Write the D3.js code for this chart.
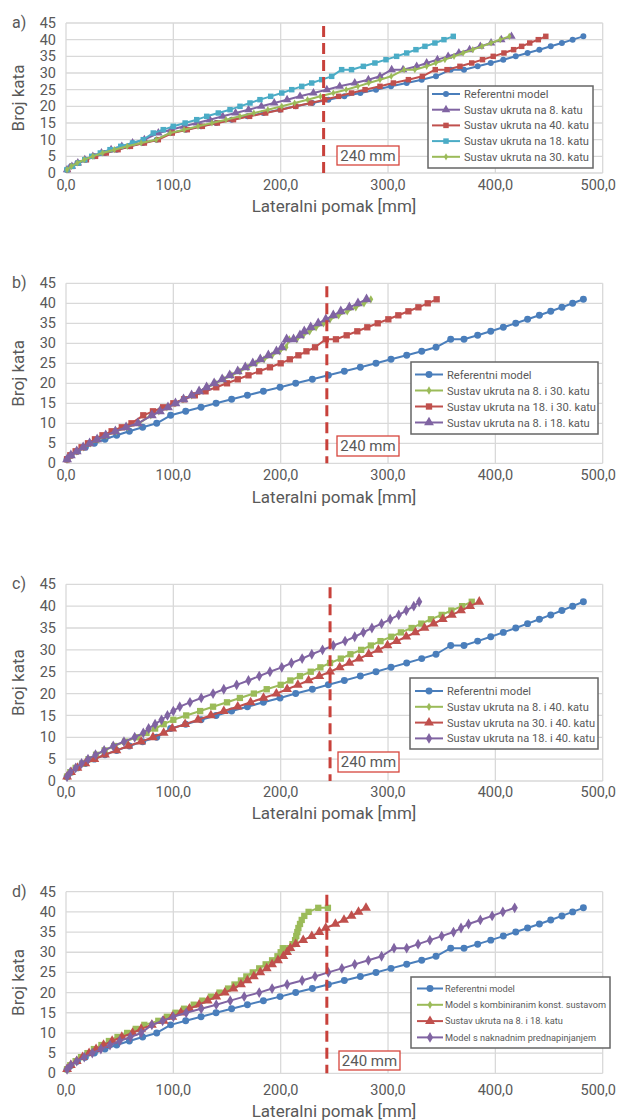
<!DOCTYPE html>
<html>
<head>
<meta charset="utf-8">
<script src="https://cdn.jsdelivr.net/npm/d3@7"></script>
<style>
  body { margin: 0; background: #fff; }
  svg text { font-family: Roboto, "Open Sans", sans-serif; fill: #595959; }
</style>
</head>
<body>
<svg id="chart" width="618" height="1120"></svg>
<script>
// ---- data (floor number vs lateral displacement in mm) ----
var xTicks = [0, 100, 200, 300, 400, 500];
var yTicks = [0, 5, 10, 15, 20, 25, 30, 35, 40, 45];

// floor lists
var floorsRef = [1,2,3,4,5,6,7,8,9,10,12,13,14,15,16,17,18,19,20,21,22,23,24,25,26,27,28,29,31,31,32,33,34,35,36,37,38,39,40,41];
var floorsAll = [1,2,3,4,5,6,7,8,9,10,11,12,13,14,15,16,17,18,19,20,21,22,23,24,25,26,27,28,29,30,31,32,33,34,35,36,37,38,39,40,41];
var floorsComb = [1,2,3,4,5,6,7,8,9,10,11,12,13,14,15,16,17,18,19,20,21,22,23,24,25,26,27,28,29,30,31,31,32,33,34,35,36,37,38,39,40,41,41];

// reference model (same in all panels)
var refX = [1,4.7,10.6,18,26.4,36.3,47.2,59,71.4,84.5, 97.5,111.5,125.8,139.8,154.3,169,183.9,199.4,214,229.5,244.4,259.3,274.2,288.8,302.8,317.4,331.4,344.7, 358.4,370.8, 383.5,395.7,407.4,419,430,441,451.6,462,472,482];

// panel a
var aPurpleX = [1,5.5,11,17.5,25,33,42,52,62,73, 86,98,110,122,134,146,158,170,182,194,206,218,230.5,243,255,269,281.7,292.5, 303.4,314, 326.7,336,346,356,366,376,386,396,405.5,415];
var aRedX = [1.5,5.5,11.5,19,27.5,37.5,48.5,60,73,86, 99,113,127,141,156,171,186,200,214,228,241,254,266,278.6,292.5,305,319,332, 344,355, 367,378,388,398,408,417,424.5,432,440,447];
var aCyanX = [1,6,11.5,17.5,24,32,41,51,62,72, 81.3,90.6,99.9,111,121.8,131.1,141.9,152.8,162.1,171.4,180.7,190.7,201,210.3,219.6,228.9,238.2,247.5, 256.8,266, 277,287.8,298.1,308,317.4,326,334.4,343.7,352.1,360.8];
var aGreenX = [1,5,10.5,17,25,34,45,57,70,84, 97,110,123,136,149,162,175,188,201,213,225,237,249,261,272,282,292.5,303, 315,325, 336,344.5,353,361.5,370,379,387.5,396,404.5,413];

// panel b
var bGreenX = [1,4.5,10,16.5,23,30,38,47,57,68, 79,86.5,94,101.5,109,117,124.5,132,139.5,147,154.5,162,169.5,177,184.5,192,199,205, 208,215, 221,227,233,240,246,254,262,270,277.6,284];
var bRedX = [1,4,9,14.5,20.5,27,34,42.5,52,61, 72,81,90.5,100,110,120,130,140,150,160,170,180,190,200,208.5,216.5,224,232, 242,251.5, 261.5,271.4,280.7,290.4,300.3,309.6,319,328.3,337,345.3];
var bPurpleX = [1,4.5,10,16,22,29,37,46,56,67, 80,87.5,95,102,109.5,117,124,131,138,145.5,152.5,160,167,174,181,188.5,196,201, 205.5,212, 218,222,228,235,242,249,256,264,272,280];

// panel c
var cGreenX = [1,4,9,15,21,28,36,45,55,66,75,83,91, 100,112,125,137,150,162,175,187,200, 209,218,228,237,246,256,265,275,284,293,303,312,322,331,340,350,359,369,378];
var cRedX = [1,4.7,10.6,18,26.4,36.3,47,58,70,81,91, 99,111,123,135,147,160,172,184,196,206,216,226,236,246,255,264,273,282,291,299.5,308,317,325.5,334,342.5,351,359.5,368,376.5,385];
var cPurpleX = [1,4,9,14.5,20.5,27.5,35.5,44,54,64,72, 77,83,89,94.5,100,106,115.5,126,137,147, 159,170,180,190,201,210,220,229,239,249, 260,269,277,285,294,302,310,317,324,329];

// panel d
var dGreenX = [1,4,9,14,20,26,33,40,48,57, 65,73,86,94,102,110,119,127,135,143, 151,157,163,168,174,180,186,192,197,200, 202,208,211,213.4,214.5,215.5,216.5,218,219.6,222,226,235,244];
var dRedX = [1,4.5,10,15.5,21.5,28,35,43,52,62, 70,80,91,99,107,115,124,132,140,148, 156,163,169,175,181,187,192,197.5,202.5,206, 209,214,221,229,236,242,251,259,266,272.5,279.5];
var dPurpleX = [1,4.5,10,17,24.5,32.5,41,50,60,70, 80,90,100,112,126,140,153,166,180,192,206,220,232,244.4,257,269,281.7,294, 305.6,317.4, 328,339,350,361,368,375,386,397,407,418];

var limitValue = "240 mm";
var limitX = [240, 243, 246, 243];

var colBlue = "#4a7ebb", colRed = "#c0504d", colGreen = "#9bbb59", colPurple = "#8064a2", colCyan = "#4bacc6";

var panels = [
  { letter: "a)", top: 23, bottom: 173, tickY: 190, titleY: 212, mk: 0.75,
    box: {x: 337, y: 146, w: 62, h: 19},
    legend: {x: 428, y: 86, w: 165, h: 82, row0: 94, step: 15.7, l0: 432, l1: 460, tx: 464, fs: 11.5, width: 125},
    series: [
      {name: "Referentni model", f: floorsRef, x: refX, c: colBlue, s: "circle"},
      {name: "Sustav ukruta na 8. katu", f: floorsRef, x: aPurpleX, c: colPurple, s: "triangle"},
      {name: "Sustav ukruta na 40. katu", f: floorsRef, x: aRedX, c: colRed, s: "square"},
      {name: "Sustav ukruta na 18. katu", f: floorsRef, x: aCyanX, c: colCyan, s: "square"},
      {name: "Sustav ukruta na 30. katu", f: floorsRef, x: aGreenX, c: colGreen, s: "smalldiamond"}
    ]},
  { letter: "b)", top: 283.3, bottom: 463.3, tickY: 480, titleY: 503, mk: 1,
    box: {x: 337, y: 436, w: 62, h: 20},
    legend: {x: 411, y: 362, w: 187, h: 72, row0: 374.5, step: 16, l0: 415, l1: 443, tx: 447, fs: 11.5, width: 149},
    series: [
      {name: "Referentni model", f: floorsRef, x: refX, c: colBlue, s: "circle"},
      {name: "Sustav ukruta na 8. i 30. katu", f: floorsRef, x: bGreenX, c: colGreen, s: "smalldiamond"},
      {name: "Sustav ukruta na 18. i 30. katu", f: floorsRef, x: bRedX, c: colRed, s: "square"},
      {name: "Sustav ukruta na 8. i 18. katu", f: floorsRef, x: bPurpleX, c: colPurple, s: "triangle"}
    ]},
  { letter: "c)", top: 584.3, bottom: 781, tickY: 797, titleY: 819, mk: 1,
    box: {x: 338, y: 752, w: 61, h: 20},
    legend: {x: 410, y: 678, w: 188, h: 71, row0: 691, step: 15.8, l0: 415, l1: 443, tx: 447, fs: 11.5, width: 148},
    series: [
      {name: "Referentni model", f: floorsRef, x: refX, c: colBlue, s: "circle"},
      {name: "Sustav ukruta na 8. i 40. katu", f: floorsAll, x: cGreenX, c: colGreen, s: "square", ls: "smalldiamond"},
      {name: "Sustav ukruta na 30. i 40. katu", f: floorsAll, x: cRedX, c: colRed, s: "triangle"},
      {name: "Sustav ukruta na 18. i 40. katu", f: floorsAll, x: cPurpleX, c: colPurple, s: "diamond"}
    ]},
  { letter: "d)", top: 891.7, bottom: 1073.3, tickY: 1095, titleY: 1117, mk: 1,
    box: {x: 339, y: 1051, w: 61, h: 19},
    legend: {x: 411, y: 977, w: 199, h: 71, row0: 988.5, step: 16.3, l0: 417, l1: 443, tx: 445, fs: 9.6, width: 161},
    series: [
      {name: "Referentni model", f: floorsRef, x: refX, c: colBlue, s: "circle"},
      {name: "Model s kombiniranim konst. sustavom", f: floorsComb, x: dGreenX, c: colGreen, s: "square", ls: "smalldiamond"},
      {name: "Sustav ukruta na 8. i 18. katu", f: floorsAll, x: dRedX, c: colRed, s: "triangle"},
      {name: "Model s naknadnim prednapinjanjem", f: floorsRef, x: dPurpleX, c: colPurple, s: "diamond"}
    ]}
];

var symbolTypes = {
  circle: [d3.symbolCircle, 38],
  square: [d3.symbolSquare, 40],
  triangle: [d3.symbolTriangle, 42],
  diamond: [d3.symbolDiamond, 34],
  smalldiamond: [d3.symbolDiamond, 20]
};

var svg = d3.select("#chart");
var x = d3.scaleLinear().domain([0, 500]).range([66, 602.7]);
var fmt = function(v) { return d3.format(".1f")(v).replace(".", ","); };

function symbolPath(s, k) {
  var t = symbolTypes[s];
  return d3.symbol().type(t[0]).size(t[1] * k)();
}

panels.forEach(function(p, pi) {
  var y = d3.scaleLinear().domain([0, 45]).range([p.bottom, p.top]);
  var g = svg.append("g");

  // grid
  g.selectAll(".vg").data(xTicks).enter().append("line")
    .attr("x1", d => x(d)).attr("x2", d => x(d))
    .attr("y1", p.top).attr("y2", p.bottom)
    .attr("stroke", "#d9d9d9").attr("stroke-width", 1.3);
  g.selectAll(".hg").data(yTicks).enter().append("line")
    .attr("x1", x(0)).attr("x2", x(500))
    .attr("y1", d => y(d)).attr("y2", d => y(d))
    .attr("stroke", "#d9d9d9").attr("stroke-width", 1.3);

  // tick labels
  g.selectAll(".yt").data(yTicks).enter().append("text")
    .attr("x", 56).attr("y", d => y(d)).attr("dy", "0.35em")
    .attr("text-anchor", "end").attr("font-size", 14.5).text(d => d);
  g.selectAll(".xt").data(xTicks).enter().append("text")
    .attr("x", d => x(d)).attr("y", p.tickY)
    .attr("text-anchor", "middle").attr("font-size", 14.5).text(fmt)
    .each(function() {
      // keep the last label inside the page
      var bb = this.getBBox();
      if (bb.x + bb.width > 616) d3.select(this).attr("x", 616 - bb.width / 2);
    });

  // titles
  g.append("text").attr("x", 334).attr("y", p.titleY)
    .attr("text-anchor", "middle").attr("font-size", 17).text("Lateralni pomak [mm]");
  g.append("text")
    .attr("transform", "translate(24," + ((p.top + p.bottom) / 2) + ") rotate(-90)")
    .attr("text-anchor", "middle").attr("font-size", 17).text("Broj kata");
  g.append("text").attr("x", 12).attr("y", p.top + 5)
    .attr("font-size", 16).text(p.letter);

  // series
  p.series.forEach(function(s) {
    var pts = s.x.map(function(v, i) { return [v, s.f[i]]; });
    var line = d3.line().x(d => x(d[0])).y(d => y(d[1]));
    g.append("path").datum(pts)
      .attr("fill", "none").attr("stroke", s.c).attr("stroke-width", 2)
      .attr("stroke-linejoin", "round").attr("d", line);
    g.selectAll(null).data(pts).enter().append("path")
      .attr("transform", d => "translate(" + x(d[0]) + "," + y(d[1]) + ")")
      .attr("d", symbolPath(s.s, p.mk)).attr("fill", s.c);
  });

  // 240 mm limit
  g.append("line")
    .attr("x1", x(limitX[pi])).attr("x2", x(limitX[pi]))
    .attr("y1", p.top + 3).attr("y2", p.bottom)
    .attr("stroke", "#c8413b").attr("stroke-width", 3)
    .attr("stroke-dasharray", "11,6");
  g.append("rect").attr("x", p.box.x).attr("y", p.box.y)
    .attr("width", p.box.w).attr("height", p.box.h)
    .attr("fill", "#fff").attr("stroke", "#d6453d").attr("stroke-width", 1.3);
  g.append("text").attr("x", p.box.x + p.box.w / 2).attr("y", p.box.y + p.box.h / 2)
    .attr("dy", "0.35em").attr("text-anchor", "middle").attr("font-size", 15)
    .text(limitValue);

  // legend
  var L = p.legend;
  g.append("rect").attr("x", L.x).attr("y", L.y).attr("width", L.w).attr("height", L.h)
    .attr("fill", "#fff").attr("stroke", "#666").attr("stroke-width", 1.5);
  p.series.forEach(function(s, i) {
    var ry = L.row0 + i * L.step;
    g.append("line").attr("x1", L.l0).attr("x2", L.l1).attr("y1", ry).attr("y2", ry)
      .attr("stroke", s.c).attr("stroke-width", 2);
    g.append("path").attr("transform", "translate(" + ((L.l0 + L.l1) / 2) + "," + ry + ")")
      .attr("d", symbolPath(s.ls || s.s, p.mk)).attr("fill", s.c);
    var t = g.append("text").attr("x", L.tx).attr("y", ry).attr("dy", "0.35em")
      .attr("font-size", L.fs).text(s.name);
    t.attr("data-w", t.node().getComputedTextLength());
  });
  // squeeze legend labels so the longest one matches the box width
  var texts = g.selectAll("text[data-w]");
  var maxW = d3.max(texts.nodes(), n => +n.getAttribute("data-w"));
  var ratio = Math.min(1, L.width / maxW);
  if (ratio < 1) {
    texts.each(function() {
      var w = +this.getAttribute("data-w");
      d3.select(this).attr("textLength", w * ratio).attr("lengthAdjust", "spacingAndGlyphs");
    });
  }
});
</script>
</body>
</html>
